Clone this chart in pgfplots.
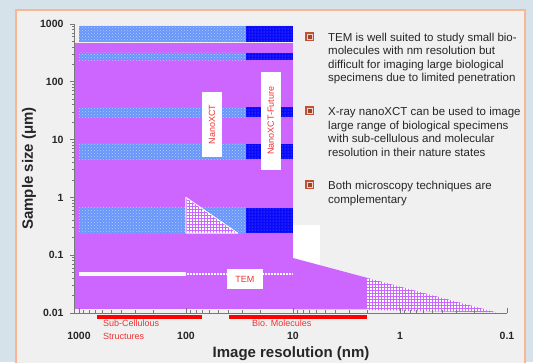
\documentclass[border=0pt]{standalone}
\usepackage{pgfplots}
\pgfplotsset{compat=1.18}
\usepackage{fontspec}
\setmainfont{Liberation Sans}
\usetikzlibrary{patterns}
\definecolor{purp}{RGB}{204,102,255}
\definecolor{lblue}{RGB}{105,150,250}
\definecolor{lbluedot}{RGB}{175,205,255}
\definecolor{dblue}{RGB}{10,10,250}
\definecolor{dbluedot}{RGB}{120,120,255}
\definecolor{redtxt}{RGB}{240,50,50}
\definecolor{bulc}{RGB}{195,80,50}
\definecolor{framec}{RGB}{250,182,145}
\definecolor{slidebg}{RGB}{240,240,240}
\definecolor{outerbg}{RGB}{214,226,234}
\definecolor{axgray}{RGB}{120,120,120}
\begin{document}
\begin{tikzpicture}[x=1pt,y=1pt]
\path[use as bounding box] (0,0) rectangle (533,362);
\fill[outerbg] (0,0) rectangle (533,362);
\filldraw[fill=slidebg, draw=framec, line width=1.2pt] (16,-5) rectangle (525,352);
% bullets
\foreach \by in {325,251,177} {
  \fill[bulc] (305,\by-4.5) rectangle ++(9,9);
  \fill[white!75!bulc] (306.5,\by-3) rectangle ++(6,6);
  \fill[bulc!85!black] (307.5,\by-2) rectangle ++(4,4);
}
\node[anchor=north west, inner sep=0, align=left, text=black!85, font=\fontsize{11.5}{13.6}\selectfont] at (328,329.4)
 {TEM is well suited to study small bio-\\molecules with nm resolution but\\difficult for imaging large biological\\specimens due to limited penetration};
\node[anchor=north west, inner sep=0, align=left, text=black!85, font=\fontsize{11.5}{13.6}\selectfont] at (328,255)
 {X-ray nanoXCT can be used to image\\large range of biological specimens\\with sub-cellulous and molecular\\resolution in their nature states};
\node[anchor=north west, inner sep=0, align=left, text=black!85, font=\fontsize{11.5}{13.6}\selectfont] at (328,181)
 {Both microscopy techniques are\\complementary};
\begin{axis}[
  at={(291pt,193.5pt)}, anchor=center,
  scale only axis, width=432pt, height=289pt,
  xmode=log, ymode=log, x dir=reverse,
  xmin=0.1, xmax=1090, ymin=0.01, ymax=1000,
  axis x line*=bottom, axis y line*=left,
  ytick align/.try=outside,
  xtick={0.1,1,10,100,1000}, xticklabels={0.1,1,10,100,1000},
  ytick={0.01,0.1,1,10,100,1000}, yticklabels={0.01,0.1,1,10,100,1000},
  ticklabel style={font=\bfseries\fontsize{10.5}{12}\selectfont, text=black!85},
  xticklabel style={yshift=-16pt},
  yticklabel style={xshift=-3pt},
  axis line style={draw=axgray, line width=1pt},
  every tick/.style={axgray, line width=0.8pt},
  major tick length=5pt, minor tick length=3pt,
  axis on top, clip=false,
  xlabel={Image resolution (nm)}, ylabel={Sample size (μm)},
  xlabel style={font=\bfseries\fontsize{15}{18}\selectfont, text=black!85, at={(axis description cs:0.5,-0.155)}, anchor=base},
  ylabel style={font=\bfseries\fontsize{15}{18}\selectfont, text=black!85, at={(axis description cs:-0.1065,0.5)}, anchor=center},
]
% main NanoXCT region
\addplot[draw=none, fill=purp] coordinates {(1090,0.0115) (10,0.0115) (10,470) (1090,470)} -- cycle;
% light blue bands
\addplot[draw=none, fill=lblue, postaction={pattern=crosshatch dots, pattern color=lbluedot}] coordinates {(1000,930) (27.5,930) (27.5,490) (1000,490)} -- cycle;
\addplot[draw=none, fill=lblue, postaction={pattern=crosshatch dots, pattern color=lbluedot}] coordinates {(1000,315) (27.5,315) (27.5,238) (1000,238)} -- cycle;
\addplot[draw=none, fill=lblue, postaction={pattern=crosshatch dots, pattern color=lbluedot}] coordinates {(1000,36.6) (27.5,36.6) (27.5,24.6) (1000,24.6)} -- cycle;
\addplot[draw=none, fill=lblue, postaction={pattern=crosshatch dots, pattern color=lbluedot}] coordinates {(1000,8.4) (27.5,8.4) (27.5,4.6) (1000,4.6)} -- cycle;
\addplot[draw=none, fill=lblue, postaction={pattern=crosshatch dots, pattern color=lbluedot}] coordinates {(1000,0.66) (27.5,0.66) (27.5,0.242) (1000,0.242)} -- cycle;
% dark blue bands
\addplot[draw=none, fill=dblue, postaction={pattern=dots, pattern color=dbluedot}] coordinates {(27.5,930) (10,930) (10,490) (27.5,490)} -- cycle;
\addplot[draw=none, fill=dblue, postaction={pattern=dots, pattern color=dbluedot}] coordinates {(27.5,315) (10,315) (10,238) (27.5,238)} -- cycle;
\addplot[draw=none, fill=dblue, postaction={pattern=dots, pattern color=dbluedot}] coordinates {(27.5,36.6) (10,36.6) (10,24.6) (27.5,24.6)} -- cycle;
\addplot[draw=none, fill=dblue, postaction={pattern=dots, pattern color=dbluedot}] coordinates {(27.5,8.4) (10,8.4) (10,4.6) (27.5,4.6)} -- cycle;
\addplot[draw=none, fill=dblue, postaction={pattern=dots, pattern color=dbluedot}] coordinates {(27.5,0.66) (10,0.66) (10,0.242) (27.5,0.242)} -- cycle;
% TEM triangle
\addplot[draw=white, line width=0.6pt, fill=white, postaction={pattern=grid, pattern color=purp}] coordinates {(100,1) (100,0.242) (33,0.242)} -- cycle;
% strip
\addplot[draw=none, fill=white!60!slidebg] coordinates {(1000,0.0512) (100,0.0512) (100,0.0437) (1000,0.0437)} -- cycle;
\addplot[draw=none, fill=white, postaction={pattern=grid, pattern color=purp}] coordinates {(100,0.0512) (10,0.0512) (10,0.0437) (100,0.0437)} -- cycle;
% right TEM region
\addplot[draw=none, fill=white] coordinates {(10,0.333) (5.6,0.333) (5.6,0.060) (10,0.060)} -- cycle;
\addplot[draw=none, fill=purp] coordinates {(10,0.0115) (10,0.0895) (2.03,0.0406) (2.03,0.0115)} -- cycle;
\addplot[draw=none, fill=white, postaction={pattern=grid, pattern color=purp}] coordinates {(2.03,0.0112) (2.03,0.0406) (0.124,0.0102)} -- cycle;
% red bars
\addplot[draw=none, fill=red] coordinates {(679,0.0092) (70.8,0.0092) (70.8,0.00787) (679,0.00787)} -- cycle;
\addplot[draw=none, fill=red] coordinates {(39.6,0.0092) (2.03,0.0092) (2.03,0.00787) (39.6,0.00787)} -- cycle;
% labels
\node[fill=white, minimum width=36pt, minimum height=20pt, inner sep=0, text=redtxt, font=\fontsize{9}{9}\selectfont] at (axis cs:28.1,0.0387) {TEM};
\node[fill=white, rotate=90, minimum width=65pt, minimum height=20pt, inner sep=0, text=redtxt, font=\fontsize{9}{9}\selectfont] at (axis cs:57,18.2) {NanoXCT};
\node[fill=white, rotate=90, minimum width=98pt, minimum height=20pt, inner sep=0, text=redtxt, font=\fontsize{9}{9}\selectfont] at (axis cs:16.1,21) {NanoXCT-Future};
\node[anchor=west, inner sep=0, align=left, text=redtxt, font=\fontsize{9}{13}\selectfont] at (axis cs:597,0.00518) {Sub-Cellulous\\Structures};
\node[anchor=west, inner sep=0, text=redtxt, font=\fontsize{9}{13}\selectfont] at (axis cs:24.2,0.00671) {Bio. Molecules};
\end{axis}
\end{tikzpicture}
\end{document}
